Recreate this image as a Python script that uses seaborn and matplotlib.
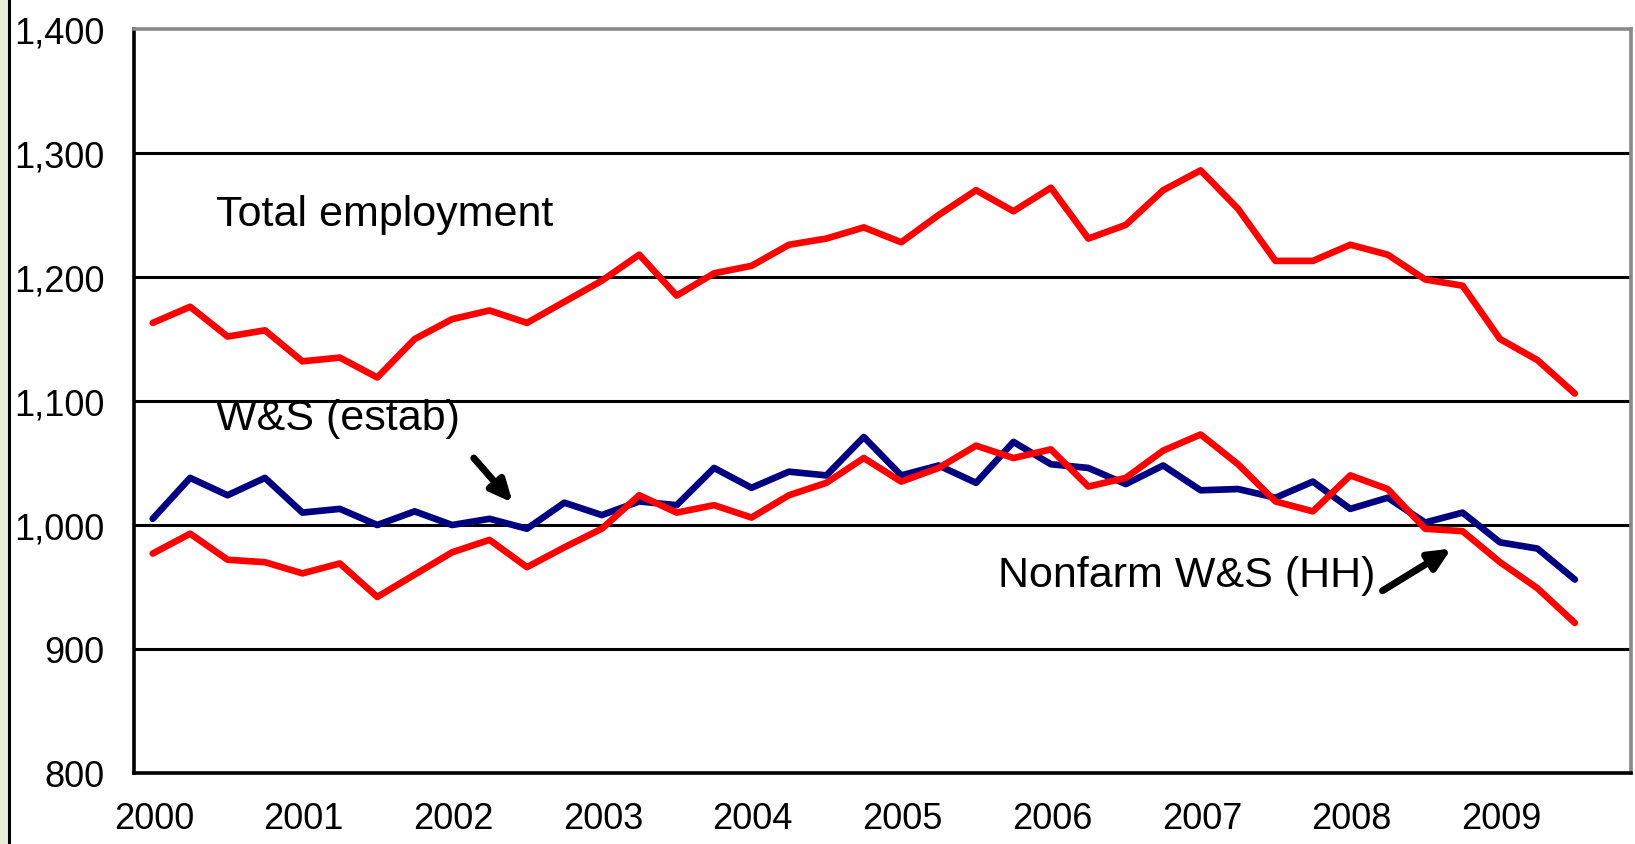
import numpy as np
import pandas as pd
import matplotlib
matplotlib.use("Agg")
import matplotlib.pyplot as plt
import matplotlib.transforms as mtransforms
from matplotlib.lines import Line2D
from matplotlib.patches import Rectangle
import seaborn as sns

# quarterly data, 2000Q1 .. 2009Q3 (thousands)
quarters = [2000 + (i + 0.5) / 4 for i in range(39)]

total_emp = [1163, 1176, 1152, 1157, 1132, 1135, 1119, 1150, 1166, 1173,
             1163, 1180, 1197, 1218, 1185, 1203, 1209, 1226, 1231, 1240,
             1228, 1250, 1270, 1253, 1272, 1231, 1242, 1270, 1286, 1255,
             1213, 1213, 1226, 1218, 1198, 1193, 1150, 1133, 1106]

ws_estab = [1005, 1038, 1024, 1038, 1010, 1013, 1000, 1011, 1000, 1005,
            997, 1018, 1008, 1019, 1016, 1046, 1030, 1043, 1040, 1071,
            1040, 1048, 1034, 1067, 1049, 1046, 1033, 1048, 1028, 1029,
            1022, 1035, 1013, 1022, 1002, 1010, 986, 981, 956]

ws_hh = [977, 993, 972, 970, 961, 969, 942, 960, 978, 988,
         966, 982, 997, 1024, 1010, 1016, 1006, 1024, 1034, 1054,
         1035, 1046, 1064, 1054, 1061, 1031, 1038, 1060, 1073, 1049,
         1019, 1011, 1040, 1029, 997, 995, 970, 949, 921]

series_names = ["W&S (estab)", "Total employment", "Nonfarm W&S (HH)"]
series_colors = ["#000080", "#FF0000", "#FF0000"]

year_ticks = list(range(2000, 2011))
year_labels = [str(y) for y in range(2000, 2010)] + [""]
y_ticks = list(range(800, 1401, 100))

df = pd.DataFrame({
    "quarter": quarters * 3,
    "value": ws_estab + total_emp + ws_hh,
    "series": np.repeat(series_names, len(quarters)),
})

sns.set_style("white")
plt.rcParams["font.family"] = ["Liberation Sans", "DejaVu Sans"]
plt.rcParams["text.color"] = "black"

fig = plt.figure(figsize=(16.35, 8.45), dpi=100)
ax = fig.add_axes([134 / 1635, 1 - 774 / 845, (1631 - 134) / 1635, (774 - 30) / 845])

# screenshot edge on the left
fig.add_artist(Rectangle((0, 0), 8 / 1635, 1, transform=fig.transFigure,
                         facecolor="#e9eedc", edgecolor="none"))
fig.add_artist(Line2D([9 / 1635, 9 / 1635], [0, 1], transform=fig.transFigure,
                      color="black", lw=2.2))

for yv in y_ticks[1:-1]:
    ax.axhline(yv, color="black", lw=2.2, zorder=1)

sns.lineplot(data=df, x="quarter", y="value", hue="series", hue_order=series_names,
             palette=series_colors, linewidth=4.8, legend=False, ax=ax, zorder=3)

ax.set_xlim(2000, 2010)
ax.set_ylim(800, 1400)
ax.set_xticks(year_ticks)
ax.set_xticklabels(year_labels)
ax.set_yticks(y_ticks)
ax.set_yticklabels([f"{v:,}" for v in y_ticks])
ax.set_xlabel("")
ax.set_ylabel("")

ax.tick_params(axis="both", direction="out", length=8, width=2.2, color="black",
               labelsize=26, labelcolor="black")
ax.tick_params(axis="y", pad=13)
ax.tick_params(axis="x", pad=12)
shift = mtransforms.ScaledTranslation(0.2, 0, fig.dpi_scale_trans)
for lab in ax.get_xticklabels():
    lab.set_transform(lab.get_transform() + shift)

for side in ["left", "bottom"]:
    ax.spines[side].set_color("black")
    ax.spines[side].set_linewidth(2.6)
for side in ["top", "right"]:
    ax.spines[side].set_color("#8a8a8a")
    ax.spines[side].set_linewidth(2.6)

ax.text(2000.55, 1251, "Total employment", fontsize=31, va="center", ha="left")
ax.text(2000.55, 1086, "W&S (estab)", fontsize=31, va="center", ha="left")
ax.text(2005.77, 960, "Nonfarm W&S (HH)", fontsize=31, va="center", ha="left")

arrow = dict(arrowstyle="-|>,head_length=1.3,head_width=0.6", color="black", lw=5,
             shrinkA=0, shrinkB=0)
ax.annotate("", xy=(2002.53, 1018), xytext=(2002.27, 1054), arrowprops=arrow)
ax.annotate("", xy=(2008.80, 981), xytext=(2008.34, 947), arrowprops=arrow)

fig.savefig("out.png", dpi=100, facecolor="white")
